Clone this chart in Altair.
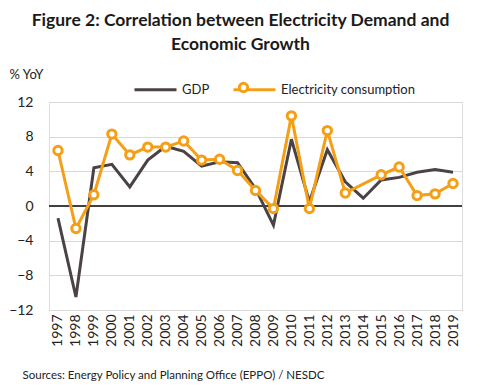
import altair as alt
import pandas as pd

years = [str(y) for y in range(1997, 2020)]
gdp = [-1.4, -10.5, 4.4, 4.8, 2.2, 5.3, 6.9, 6.3, 4.6, 5.1, 5.0, 2.0, -2.2, 7.7, 0.5,
       6.5, 2.8, 0.9, 3.0, 3.3, 3.9, 4.2, 3.9]
elec = [6.4, -2.6, 1.3, 8.3, 5.9, 6.8, 6.8, 7.5, 5.3, 5.4, 4.1, 1.8, -0.3, 10.4, -0.3,
        8.7, 1.5, None, 3.6, 4.5, 1.2, 1.4, 2.6]
series_names = ["GDP", "Electricity consumption"]

GRAY = "#4a4245"
ORANGE = "#f59f17"
FONT = "Lato"

df_gdp = pd.DataFrame({"year": years, "value": gdp, "series": series_names[0]})
df_elec = pd.DataFrame({"year": years, "value": elec, "series": series_names[1]})
df_elec = df_elec.dropna()
df_elec["marker"] = series_names[1]
df_lines = pd.concat([df_gdp, df_elec[["year", "value", "series"]]], ignore_index=True)

x_enc = alt.X(
    "year:N",
    sort=years,
    scale=alt.Scale(type="point", padding=0.5, domain=years),
    axis=alt.Axis(
        title="Sources: Energy Policy and Planning Office (EPPO) / NESDC",
        titleX=-27, titleY=65, titleAlign="left", titleBaseline="middle",
        titleFontSize=11.5, titleFontWeight="normal", titleFont=FONT, titleColor="#222222",
        labelAngle=-90, labelFontSize=14, labelFont=FONT, labelColor="#222222",
        labelPadding=4, labelOverlap=False, domain=False, ticks=False, grid=False,
    ),
)
y_scale = alt.Scale(domain=[-12, 12], nice=False)

lines = alt.Chart(df_lines).mark_line(strokeWidth=3).encode(
    x=x_enc,
    y=alt.Y(
        "value:Q", scale=y_scale,
        axis=alt.Axis(
            values=[-12, -8, -4, 0, 4, 8, 12], tickCount=7, title="% YoY",
            titleAngle=0, titleX=-40, titleY=-28, titleAlign="left", titleBaseline="middle",
            titleFontSize=13, titleFontWeight="normal", titleFont=FONT, titleColor="#222222",
            labelFontSize=14, labelFont=FONT, labelColor="#222222", labelPadding=16,
            labelOverlap=False, labelFlush=False,
            domain=False, ticks=False, grid=True, gridColor="#d9d9d9", gridWidth=1,
        ),
    ),
    color=alt.Color(
        "series:N",
        scale=alt.Scale(domain=series_names, range=[GRAY, ORANGE]),
        legend=alt.Legend(
            orient="none", legendX=84, legendY=-35, direction="horizontal", title=None,
            symbolType="stroke", symbolSize=1764, symbolStrokeWidth=3,
            labelFontSize=13, labelFont=FONT, labelColor="#222222", labelOffset=4,
            columnPadding=17,
        ),
    ),
    order=alt.Order("year:N"),
)

zero = alt.Chart(df_gdp).mark_rule(color="#404040", strokeWidth=1).encode(
    y=alt.datum(0, scale=y_scale)
)

points = alt.Chart(df_elec).mark_point(
    shape="circle", stroke=ORANGE, strokeWidth=3, size=70, opacity=1, fillOpacity=1
).encode(
    x=alt.X("year:N", sort=years),
    y=alt.Y("value:Q", scale=y_scale),
    fill=alt.Fill(
        "marker:N",
        scale=alt.Scale(domain=[series_names[1]], range=["white"]),
        legend=alt.Legend(
            orient="none", legendX=188, legendY=-21, title=None,
            symbolType="circle", symbolSize=70, labelExpr="''", labelFontSize=13,
            symbolStrokeColor=ORANGE, symbolStrokeWidth=3, symbolFillColor="white",
            symbolOpacity=1,
        ),
    ),
)

chart = alt.layer(zero, lines, points).properties(
    width=413,
    height=208,
    autosize=alt.AutoSizeParams(type="none"),
    padding={"left": 41, "top": 94, "right": 10, "bottom": 72},
    title=alt.Title(
        ["Figure 2: Correlation between Electricity Demand and", "Economic Growth"],
        anchor="middle", frame="group", dx=-15, offset=14,
        fontSize=17.5, font=FONT, fontWeight="bold", color="#1a1a1a", lineHeight=24,
    ),
).configure_view(stroke=None).configure(background="white")

chart.save("out.html", embed_options={"renderer": "svg", "actions": False})
